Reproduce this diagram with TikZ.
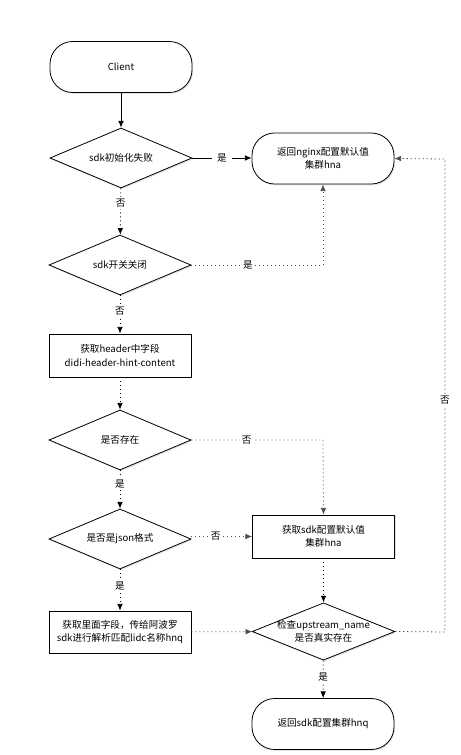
\documentclass[tikz,border=0pt]{standalone}
\usepackage{fontspec}
\setmainfont{Noto Sans CJK SC}
\usetikzlibrary{shapes.geometric,arrows.meta,shadows}
\begin{document}
\begin{tikzpicture}[x=0.75pt,y=-0.75pt,
  font=\fontsize{7.2pt}{10pt}\selectfont,
  shd/.style={drop shadow={shadow xshift=0.8pt,shadow yshift=-1pt,opacity=0.22}},
  term/.style={draw,semithick,rounded corners=17pt,fill=white,shd,minimum width=106.5pt,minimum height=38.25pt,align=center,inner sep=1pt},
  procbox/.style={draw,semithick,fill=white,shd,minimum width=106.5pt,minimum height=32.25pt,align=center,inner sep=1pt},
  dia/.style={draw,semithick,diamond,fill=white,shd,minimum width=106.5pt,minimum height=45pt,inner sep=0pt,aspect=2.4},
  txt/.style={align=center,inner sep=0pt},
  lbl/.style={fill=white,inner sep=1.5pt},
  arr/.style={-{Latex[length=5pt,width=4.2pt]},semithick},
  dotarr/.style={-{Latex[length=5pt,width=4.2pt]},semithick,dash pattern=on 0.8pt off 2.2pt},
  greyarr/.style={-{Latex[length=5pt,width=4.2pt]},semithick,draw=black!70,dash pattern=on 0.8pt off 2.2pt}
]
\useasboundingbox (0,0) rectangle (460,755);
\node[term] (client) at (121,67) {Client};
\node[dia] (d1) at (121,158) {};
\node[txt] (d1t) at (d1) {sdk初始化失败};
\node[term] (b1) at (323,158.5) {返回nginx配置默认值\\集群hna};
\node[dia] (d2) at (120,265) {};
\node[txt] (d2t) at (d2) {sdk开关关闭};
\node[procbox] (b2) at (120,355.5) {获取header中字段\\didi-header-hint-content};
\node[dia] (d3) at (120,440) {};
\node[txt] (d3t) at (d3) {是否存在};
\node[dia] (d4) at (120,539) {};
\node[txt] (d4t) at (d4) {是否是json格式};
\node[procbox] (b3) at (323.5,536.5) {获取sdk配置默认值\\集群hna};
\node[procbox,minimum height=31.5pt] (b4) at (120,632) {获取里面字段，传给阿波罗\\sdk进行解析匹配lidc名称hnq};
\node[dia,minimum width=107pt,minimum height=43pt] (d5) at (323.5,631.5) {};
\node[txt] (d5t) at (d5) {检查upstream\_name\\是否真实存在};
\node[term] (b5) at (323,724) {返回sdk配置集群hnq};

\coordinate (c1) at (323,265);
\coordinate (c2) at (323,440);
\coordinate (c3) at (445,632);
\coordinate (c4) at (445,159);

\draw[arr] (client) -- (d1);
\draw[arr] (d1.east) -- node[lbl,inner xsep=4pt]{是} (b1.west |- d1.east);
\draw[dotarr] (d1) -- node[lbl,pos=0.32]{否} (d2);
\draw[greyarr] (d2.east) -- node[lbl,pos=0.43]{是} (c1) -- (b1.south);
\draw[dotarr] (d2) -- node[lbl,pos=0.42]{否} (b2);
\draw[dotarr] (b2) -- (d3);
\draw[greyarr] (d3.east) -- node[lbl,pos=0.42]{否} (c2) -- (b3.north);
\draw[dotarr] (d3) -- node[lbl,pos=0.35]{是} (d4);
\draw[greyarr] (d4.east |- b3.west) -- node[lbl,pos=0.4]{否} (b3.west);
\draw[dotarr] (d4) -- node[lbl,pos=0.4]{是} (b4);
\draw[dotarr] (b3) -- (d5);
\draw[greyarr] (b4) -- (d5);
\draw[greyarr] (d5.east) -- (c3) -- node[lbl,pos=0.49]{否} (c4) -- (b1.east);
\draw[dotarr] (d5) -- node[lbl,pos=0.45]{是} (b5);
\end{tikzpicture}
\end{document}
